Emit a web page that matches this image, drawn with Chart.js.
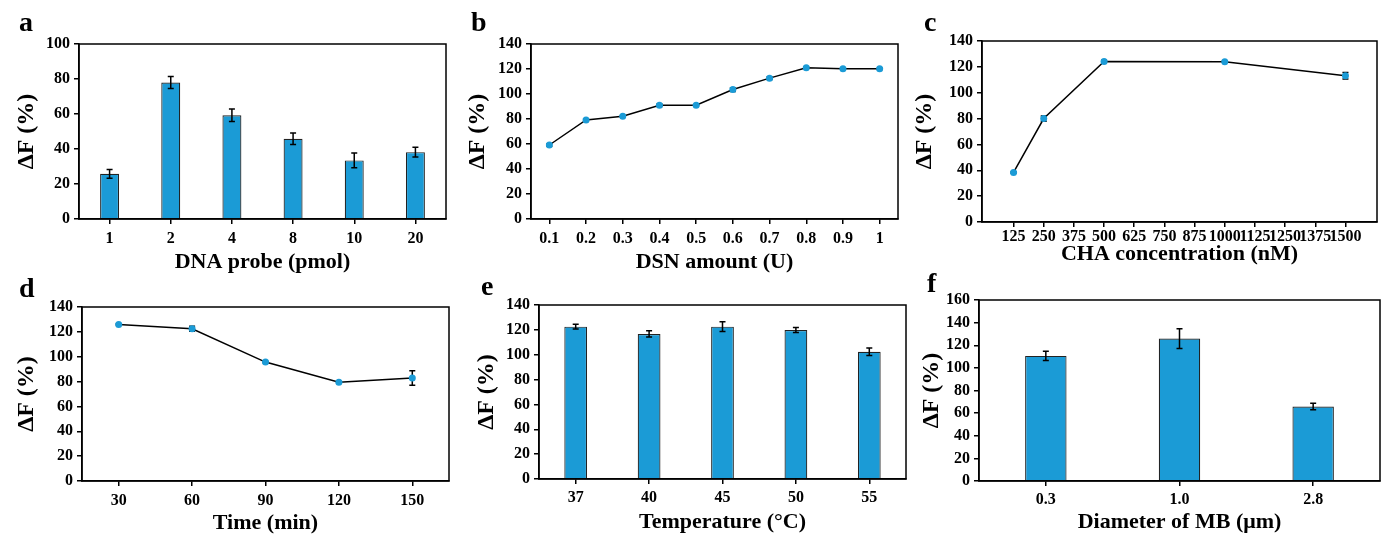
<!DOCTYPE html>
<html>
<head>
<meta charset="utf-8">
<script src="https://cdn.jsdelivr.net/npm/chart.js@4"></script>
<style>
  html, body { margin:0; padding:0; background:#fff; overflow:hidden; }
  #wrap { position:relative; width:1381px; height:535px; }
  canvas { position:absolute; }
  .lbl { position:absolute; font-family:'Liberation Serif','Times New Roman',serif; font-weight:bold; font-size:28px; line-height:1; color:#000; }
</style>
</head>
<body>
<div id="wrap">
  <canvas id="chartA" width="460" height="290" style="left:0px;top:0px"></canvas>
  <canvas id="chartB" width="460" height="290" style="left:460px;top:0px"></canvas>
  <canvas id="chartC" width="476" height="290" style="left:905px;top:0px"></canvas>
  <canvas id="chartD" width="460" height="290" style="left:0px;top:268px"></canvas>
  <canvas id="chartE" width="460" height="290" style="left:460px;top:268px"></canvas>
  <canvas id="chartF" width="476" height="290" style="left:905px;top:268px"></canvas>
  <div class="lbl" style="left:19px;top:8px">a</div>
  <div class="lbl" style="left:471px;top:8px">b</div>
  <div class="lbl" style="left:924px;top:8px">c</div>
  <div class="lbl" style="left:19px;top:274px">d</div>
  <div class="lbl" style="left:481px;top:272px">e</div>
  <div class="lbl" style="left:927px;top:269px">f</div>
</div>
<script>
// a - DNA probe
var probeLabels = ['1', '2', '4', '8', '10', '20'];
var probeValues = [25.8, 78.0, 59.3, 45.9, 33.5, 38.2];
var probeErrors = [2.5, 3.4, 3.6, 3.3, 4.2, 2.8];

// b - DSN amount
var dsnLabels = ['0.1', '0.2', '0.3', '0.4', '0.5', '0.6', '0.7', '0.8', '0.9', '1'];
var dsnValues = [59.2, 79.2, 82.2, 91.0, 91.0, 103.6, 112.7, 121.0, 120.2, 120.2];
var dsnErrors = [1, 1, 0.5, 1, 0.5, 1.5, 1, 0.5, 0.5, 0.5];

// c - CHA concentration
var chaConc = [125, 250, 500, 1000, 1500];
var chaValues = [38.3, 80.0, 124.2, 124.0, 113.1];
var chaErrors = [0.5, 2, 1, 0.5, 2.5];
var chaTicks = [125, 250, 375, 500, 625, 750, 875, 1000, 1125, 1250, 1375, 1500];

// d - time
var timeLabels = ['30', '60', '90', '120', '150'];
var timeValues = [126.0, 122.5, 95.7, 79.4, 82.9];
var timeErrors = [0.5, 2, 0.5, 0.5, 5.8];

// e - temperature
var tempLabels = ['37', '40', '45', '50', '55'];
var tempValues = [122.6, 116.7, 122.6, 119.9, 102.4];
var tempErrors = [2, 2.5, 4, 2, 3];

// f - MB diameter
var mbLabels = ['0.3', '1.0', '2.8'];
var mbValues = [110.6, 125.9, 65.9];
var mbErrors = [4.1, 8.7, 2.9];

var BLUE = 'rgb(27,155,214)';

Chart.defaults.font.family = "'Liberation Serif', 'Times New Roman', serif";
Chart.defaults.font.weight = 'bold';
Chart.defaults.color = '#000';

function drawErrors(chart, behind) {
  var ctx = chart.ctx, ys = chart.scales.y;
  chart.data.datasets.forEach(function(ds, i) {
    if (!ds.errors || !!ds.errorsBehind !== behind) return;
    var meta = chart.getDatasetMeta(i);
    ctx.save();
    ctx.strokeStyle = '#000';
    ctx.lineWidth = 1.5;
    meta.data.forEach(function(el, j) {
      var v = ds.data[j];
      if (v === null || v === undefined) return;
      if (typeof v === 'object') v = v.y;
      var e = ds.errors[j];
      var top = ys.getPixelForValue(v + e), bot = ys.getPixelForValue(v - e);
      ctx.beginPath();
      ctx.moveTo(el.x, top); ctx.lineTo(el.x, bot);
      ctx.moveTo(el.x - 3, top); ctx.lineTo(el.x + 3, top);
      ctx.moveTo(el.x - 3, bot); ctx.lineTo(el.x + 3, bot);
      ctx.stroke();
    });
    ctx.restore();
  });
}

// error bars + frame round the plot area
var errorBars = {
  id: 'errorBars',
  beforeDatasetsDraw: function(chart) { drawErrors(chart, true); },
  afterDatasetsDraw: function(chart) { drawErrors(chart, false); },
  afterDraw: function(chart) {
    var a = chart.chartArea, ctx = chart.ctx;
    ctx.save();
    ctx.strokeStyle = '#000';
    ctx.lineWidth = 1.5;
    ctx.strokeRect(a.left, a.top, a.right - a.left, a.bottom - a.top);
    ctx.restore();
  }
};

function makeOptions(p) {
  return {
    responsive: false,
    animation: false,
    layout: { padding: { left: 0, top: p.T, right: p.W - p.R, bottom: 0 } },
    plugins: { legend: { display: false }, tooltip: { enabled: false } },
    scales: {
      x: {
        offset: true,
        grid: { offset: false, drawOnChartArea: false, color: '#000', lineWidth: 1.5, tickLength: 5 },
        border: { color: '#000', width: 1.5 },
        ticks: { font: { size: 16, weight: 'bold' }, padding: p.tickPad, autoSkip: false, maxRotation: 0 },
        title: { display: true, text: p.xTitle, font: { size: 22, weight: 'bold' }, padding: { top: 0, bottom: p.xPad } },
        afterFit: function(s) { s.height = p.H - p.B; }
      },
      y: {
        min: 0, max: p.ymax,
        grid: { drawOnChartArea: false, color: '#000', lineWidth: 1.5, tickLength: 5 },
        border: { color: '#000', width: 1.5 },
        ticks: { stepSize: 20, font: { size: 16, weight: 'bold' }, padding: 4 },
        title: { display: true, text: 'ΔF (%)', font: { size: 24, weight: 'bold' }, padding: { top: p.yPad, bottom: 0 } },
        afterFit: function(s) { s.width = p.L; }
      }
    }
  };
}

function barSet(values, errors) {
  return {
    data: values, errors: errors,
    backgroundColor: BLUE, borderColor: '#222', borderWidth: 1.2,
    barPercentage: 0.31, categoryPercentage: 1
  };
}
function lineSet(values, errors) {
  return {
    data: values, errors: errors, errorsBehind: true,
    borderColor: '#000', borderWidth: 1.5, tension: 0,
    pointBackgroundColor: BLUE, pointBorderColor: BLUE, pointRadius: 3.5, pointBorderWidth: 0
  };
}

new Chart(document.getElementById('chartA'), {
  type: 'bar',
  data: { labels: probeLabels, datasets: [barSet(probeValues, probeErrors)] },
  options: makeOptions({ W: 460, H: 290, L: 79, T: 44, R: 446, B: 219, ymax: 100, yPad: 12, xTitle: 'DNA probe (pmol)', xPad: 14, tickPad: 5 }),
  plugins: [errorBars]
});

new Chart(document.getElementById('chartB'), {
  type: 'line',
  data: { labels: dsnLabels, datasets: [lineSet(dsnValues, dsnErrors)] },
  options: makeOptions({ W: 460, H: 290, L: 71, T: 44, R: 438, B: 219, ymax: 140, yPad: 3, xTitle: 'DSN amount (U)', xPad: 14, tickPad: 5 }),
  plugins: [errorBars]
});

var optC = makeOptions({ W: 476, H: 290, L: 77, T: 41, R: 473, B: 222, ymax: 140, yPad: 5, xTitle: 'CHA concentration (nM)', xPad: 22, tickPad: 0 });
optC.scales.x.type = 'linear';
optC.scales.x.min = 62.5;
optC.scales.x.max = 1562.5;
optC.scales.x.afterBuildTicks = function(s) { s.ticks = chaTicks.map(function(v) { return { value: v }; }); };
optC.scales.x.ticks.callback = function(v) { return String(v); };
new Chart(document.getElementById('chartC'), {
  type: 'line',
  data: { datasets: [lineSet(chaConc.map(function(c, i) { return { x: c, y: chaValues[i] }; }), chaErrors)] },
  options: optC,
  plugins: [errorBars]
});

new Chart(document.getElementById('chartD'), {
  type: 'line',
  data: { labels: timeLabels, datasets: [lineSet(timeValues, timeErrors)] },
  options: makeOptions({ W: 460, H: 290, L: 82, T: 39, R: 449, B: 213, ymax: 140, yPad: 12, xTitle: 'Time (min)', xPad: 21, tickPad: 5 }),
  plugins: [errorBars]
});

new Chart(document.getElementById('chartE'), {
  type: 'bar',
  data: { labels: tempLabels, datasets: [barSet(tempValues, tempErrors)] },
  options: makeOptions({ W: 460, H: 290, L: 79, T: 37, R: 446, B: 211, ymax: 140, yPad: 12, xTitle: 'Temperature (°C)', xPad: 22, tickPad: 4 }),
  plugins: [errorBars]
});

new Chart(document.getElementById('chartF'), {
  type: 'bar',
  data: { labels: mbLabels, datasets: [barSet(mbValues, mbErrors)] },
  options: makeOptions({ W: 476, H: 290, L: 74, T: 32, R: 475, B: 213, ymax: 160, yPad: 12, xTitle: 'Diameter of MB (μm)', xPad: 22, tickPad: 4 }),
  plugins: [errorBars]
});
</script>
</body>
</html>
